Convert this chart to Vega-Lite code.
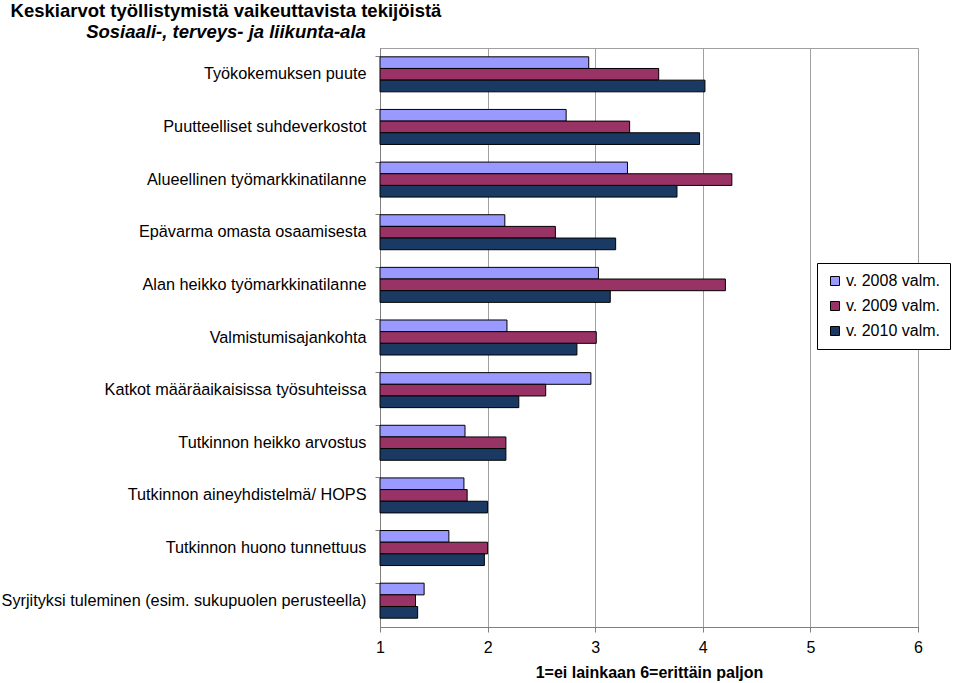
{
  "$schema": "https://vega.github.io/schema/vega-lite/v6.json",
  "width": 538,
  "height": 579,
  "autosize": {"type": "none"},
  "padding": {"left": 380, "top": 48, "right": 41, "bottom": 56},
  "background": "white",
  "title": {
    "text": "Keskiarvot työllistymistä vaikeuttavista tekijöistä",
    "subtitle": "Sosiaali-, terveys- ja liikunta-ala",
    "anchor": "start",
    "frame": "group",
    "align": "center",
    "dx": -154,
    "offset": 7,
    "font": "Liberation Sans",
    "fontSize": 18.5,
    "fontWeight": "bold",
    "color": "black",
    "subtitleFont": "Liberation Sans",
    "subtitleFontSize": 18.5,
    "subtitleFontStyle": "italic",
    "subtitleFontWeight": "bold",
    "subtitleColor": "black",
    "subtitlePadding": 2
  },
  "config": {
    "view": {"stroke": "#A0A0A0", "strokeWidth": 1}
  },
  "data": {
    "values": [
      {"factor": "Työkokemuksen puute", "year": "v. 2008 valm.", "value": 2.94},
      {"factor": "Työkokemuksen puute", "year": "v. 2009 valm.", "value": 3.59},
      {"factor": "Työkokemuksen puute", "year": "v. 2010 valm.", "value": 4.02},
      {"factor": "Puutteelliset suhdeverkostot", "year": "v. 2008 valm.", "value": 2.73},
      {"factor": "Puutteelliset suhdeverkostot", "year": "v. 2009 valm.", "value": 3.32},
      {"factor": "Puutteelliset suhdeverkostot", "year": "v. 2010 valm.", "value": 3.97},
      {"factor": "Alueellinen työmarkkinatilanne", "year": "v. 2008 valm.", "value": 3.30},
      {"factor": "Alueellinen työmarkkinatilanne", "year": "v. 2009 valm.", "value": 4.27},
      {"factor": "Alueellinen työmarkkinatilanne", "year": "v. 2010 valm.", "value": 3.76},
      {"factor": "Epävarma omasta osaamisesta", "year": "v. 2008 valm.", "value": 2.16},
      {"factor": "Epävarma omasta osaamisesta", "year": "v. 2009 valm.", "value": 2.63},
      {"factor": "Epävarma omasta osaamisesta", "year": "v. 2010 valm.", "value": 3.19},
      {"factor": "Alan heikko työmarkkinatilanne", "year": "v. 2008 valm.", "value": 3.03},
      {"factor": "Alan heikko työmarkkinatilanne", "year": "v. 2009 valm.", "value": 4.21},
      {"factor": "Alan heikko työmarkkinatilanne", "year": "v. 2010 valm.", "value": 3.14},
      {"factor": "Valmistumisajankohta", "year": "v. 2008 valm.", "value": 2.18},
      {"factor": "Valmistumisajankohta", "year": "v. 2009 valm.", "value": 3.01},
      {"factor": "Valmistumisajankohta", "year": "v. 2010 valm.", "value": 2.83},
      {"factor": "Katkot määräaikaisissa työsuhteissa", "year": "v. 2008 valm.", "value": 2.96},
      {"factor": "Katkot määräaikaisissa työsuhteissa", "year": "v. 2009 valm.", "value": 2.54},
      {"factor": "Katkot määräaikaisissa työsuhteissa", "year": "v. 2010 valm.", "value": 2.29},
      {"factor": "Tutkinnon heikko arvostus", "year": "v. 2008 valm.", "value": 1.79},
      {"factor": "Tutkinnon heikko arvostus", "year": "v. 2009 valm.", "value": 2.17},
      {"factor": "Tutkinnon heikko arvostus", "year": "v. 2010 valm.", "value": 2.17},
      {"factor": "Tutkinnon aineyhdistelmä/ HOPS", "year": "v. 2008 valm.", "value": 1.78},
      {"factor": "Tutkinnon aineyhdistelmä/ HOPS", "year": "v. 2009 valm.", "value": 1.81},
      {"factor": "Tutkinnon aineyhdistelmä/ HOPS", "year": "v. 2010 valm.", "value": 2.00},
      {"factor": "Tutkinnon huono tunnettuus", "year": "v. 2008 valm.", "value": 1.64},
      {"factor": "Tutkinnon huono tunnettuus", "year": "v. 2009 valm.", "value": 2.00},
      {"factor": "Tutkinnon huono tunnettuus", "year": "v. 2010 valm.", "value": 1.97},
      {"factor": "Syrjityksi tuleminen (esim. sukupuolen perusteella)", "year": "v. 2008 valm.", "value": 1.41},
      {"factor": "Syrjityksi tuleminen (esim. sukupuolen perusteella)", "year": "v. 2009 valm.", "value": 1.33},
      {"factor": "Syrjityksi tuleminen (esim. sukupuolen perusteella)", "year": "v. 2010 valm.", "value": 1.35}
    ]
  },
  "mark": {"type": "bar", "stroke": "black", "strokeWidth": 1},
  "encoding": {
    "y": {
      "field": "factor",
      "type": "nominal",
      "sort": [
        "Työkokemuksen puute",
        "Puutteelliset suhdeverkostot",
        "Alueellinen työmarkkinatilanne",
        "Epävarma omasta osaamisesta",
        "Alan heikko työmarkkinatilanne",
        "Valmistumisajankohta",
        "Katkot määräaikaisissa työsuhteissa",
        "Tutkinnon heikko arvostus",
        "Tutkinnon aineyhdistelmä/ HOPS",
        "Tutkinnon huono tunnettuus",
        "Syrjityksi tuleminen (esim. sukupuolen perusteella)"
      ],
      "scale": {"paddingInner": 0.335, "paddingOuter": 0.1675},
      "axis": {
        "title": null,
        "bandPosition": 0,
        "labelFont": "Liberation Sans",
        "labelFontSize": 16.25,
        "labelColor": "black",
        "labelPadding": 9,
        "labelLimit": 400,
        "tickSize": 5,
        "tickColor": "#808080",
        "domainColor": "#808080"
      }
    },
    "yOffset": {
      "field": "year",
      "type": "nominal",
      "sort": ["v. 2008 valm.", "v. 2009 valm.", "v. 2010 valm."]
    },
    "x": {
      "field": "value",
      "type": "quantitative",
      "scale": {"domain": [1, 6], "zero": false, "nice": false},
      "axis": {
        "title": "1=ei lainkaan 6=erittäin paljon",
        "values": [1, 2, 3, 4, 5, 6],
        "format": "d",
        "grid": true,
        "gridColor": "#A0A0A0",
        "labelFlush": false,
        "labelFont": "Liberation Sans",
        "labelFontSize": 16,
        "labelColor": "black",
        "labelPadding": 7,
        "tickSize": 5,
        "tickColor": "#808080",
        "domainColor": "#808080",
        "titleFont": "Liberation Sans",
        "titleFontSize": 16,
        "titleFontWeight": "bold",
        "titleColor": "black",
        "titlePadding": 9
      }
    },
    "x2": {"datum": 1},
    "color": {
      "field": "year",
      "type": "nominal",
      "scale": {
        "domain": ["v. 2008 valm.", "v. 2009 valm.", "v. 2010 valm."],
        "range": ["#9999FF", "#993366", "#1B3A63"]
      },
      "legend": {
        "title": null,
        "orient": "none",
        "legendX": 437,
        "legendY": 215,
        "symbolType": "square",
        "symbolSize": 81,
        "symbolStrokeColor": "black",
        "symbolStrokeWidth": 1,
        "labelFont": "Liberation Sans",
        "labelFontSize": 16,
        "labelColor": "black",
        "labelOffset": 3,
        "rowPadding": 9,
        "padding": 10,
        "fillColor": "white",
        "strokeColor": "black"
      }
    }
  }
}
